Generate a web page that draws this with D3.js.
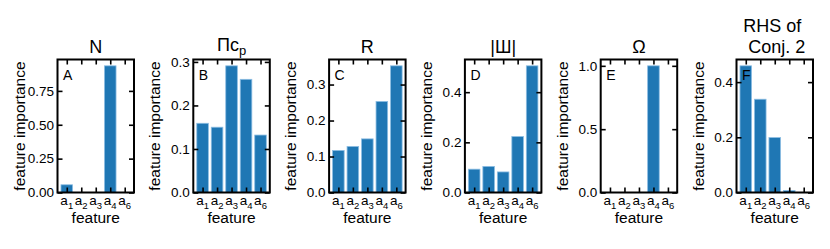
<!DOCTYPE html>
<html>
<head>
<meta charset="utf-8">
<script src="https://cdn.jsdelivr.net/npm/d3@7"></script>
<style>
  body { margin: 0; background: #fff; }
  svg { font-family: "Liberation Sans", Arial, sans-serif; }
</style>
</head>
<body>
<svg id="chart" width="830" height="249"></svg>
<script>
// features on the x axis (subscripts of a)
var features = ["1", "2", "3", "4", "6"];
var letters = ["A", "B", "C", "D", "E", "F"];
var titleMain = ["N", "\u03A0c", "R", "|\u0428|", "\u03A9", "RHS of"];
var titleSub = ["", "p", "", "", "", ""];
var titleLine2 = ["", "", "", "", "", "Conj. 2"];

// feature importances
var valuesN = [0.057, 0, 0, 0.935, 0];
var valuesPi = [0.159, 0.150, 0.291, 0.260, 0.132];
var valuesR = [0.117, 0.128, 0.149, 0.253, 0.352];
var valuesSha = [0.093, 0.104, 0.082, 0.223, 0.505];
var valuesOmega = [0, 0, 0, 1.0, 0];
var valuesRHS = [0.459, 0.338, 0.199, 0.007, 0];

// y tick values for each panel
var ticksN = [0, 0.25, 0.5, 0.75];
var ticksPi = [0, 0.1, 0.2, 0.3];
var ticksR = [0, 0.1, 0.2, 0.3];
var ticksSha = [0, 0.2, 0.4];
var ticksOmega = [0, 0.5, 1.0];
var ticksRHS = [0, 0.2, 0.4];

var panels = [
  {values: valuesN, ticks: ticksN, fmt: ".2f"},
  {values: valuesPi, ticks: ticksPi, fmt: ".1f"},
  {values: valuesR, ticks: ticksR, fmt: ".1f"},
  {values: valuesSha, ticks: ticksSha, fmt: ".1f"},
  {values: valuesOmega, ticks: ticksOmega, fmt: ".1f"},
  {values: valuesRHS, ticks: ticksRHS, fmt: ".1f"}
];

var svg = d3.select("#chart");
var firstLeft = 57.5, pitch = 135.8, pw = 76.5;
var plotTop = 59.5, plotBottom = 192.5;
var tickLen = 5;

panels.forEach(function (p, i) {
  var left = firstLeft + i * pitch;
  var g = svg.append("g").attr("transform", "translate(" + left + ",0)");

  var x = d3.scaleLinear().domain([-0.64, features.length - 1 + 0.64]).range([0, pw]);
  var y = d3.scaleLinear().domain([0, d3.max(p.values) * 1.05]).range([plotBottom, plotTop]);

  g.selectAll(".bar")
    .data(p.values)
    .enter()
    .append("rect")
    .attr("class", "bar")
    .attr("x", function (d, j) {return x(j - 0.4);})
    .attr("width", x(0.8) - x(0))
    .attr("y", function (d) {return y(d);})
    .attr("height", function (d) {return y(0) - y(d);})
    .attr("fill", "#1f77b4")
    .attr("stroke", "#8cbde3")
    .attr("stroke-width", 0.8);

  var idx = d3.range(features.length);

  var yl = g.append("g")
    .call(d3.axisLeft(y).tickValues(p.ticks).tickFormat(d3.format(p.fmt))
      .tickSizeInner(-tickLen).tickSizeOuter(0).tickPadding(3.5));
  var yr = g.append("g").attr("transform", "translate(" + pw + ",0)")
    .call(d3.axisRight(y).tickValues(p.ticks).tickFormat("")
      .tickSizeInner(-tickLen).tickSizeOuter(0));
  var xb = g.append("g").attr("transform", "translate(0," + plotBottom + ")")
    .call(d3.axisBottom(x).tickValues(idx).tickFormat("")
      .tickSizeInner(-tickLen).tickSizeOuter(0));
  var xt = g.append("g").attr("transform", "translate(0," + plotTop + ")")
    .call(d3.axisTop(x).tickValues(idx).tickFormat("")
      .tickSizeInner(-tickLen).tickSizeOuter(0));

  [yl, yr, xb, xt].forEach(function (a) {
    a.select(".domain").remove();
    a.selectAll(".tick line").attr("stroke", "#000").attr("stroke-width", 1.6);
  });
  yl.attr("font-size", null).attr("font-family", null);
  yl.selectAll(".tick text")
    .attr("font-size", 13.5)
    .attr("fill", "#000");

  // x tick labels a_k
  var xl = g.selectAll(".xlab")
    .data(features)
    .enter()
    .append("text")
    .attr("class", "xlab")
    .attr("x", function (d, j) {return x(j);})
    .attr("y", plotBottom + 12.5)
    .attr("text-anchor", "middle")
    .attr("font-size", 13.5);
  xl.append("tspan").text("a");
  xl.append("tspan").attr("dy", 3.5).attr("font-size", 9.5).text(function (d) {return d;});

  // frame
  g.append("rect")
    .attr("x", 0).attr("y", plotTop)
    .attr("width", pw).attr("height", plotBottom - plotTop)
    .attr("fill", "none")
    .attr("stroke", "#000")
    .attr("stroke-width", 2);

  // panel letter
  g.append("text")
    .attr("x", 5.5).attr("y", plotTop + 20)
    .attr("font-size", 14)
    .text(letters[i]);

  // axis labels
  g.append("text")
    .attr("x", pw / 2).attr("y", 222.5)
    .attr("text-anchor", "middle")
    .attr("font-size", 15.5)
    .text("feature");
  g.append("text")
    .attr("transform", "translate(-33," + ((plotTop + plotBottom) / 2) + ") rotate(-90)")
    .attr("text-anchor", "middle")
    .attr("font-size", 15.5)
    .text("feature importance");

  // title
  if (titleLine2[i]) {
    g.append("text")
      .attr("x", pw / 2 - 2.5).attr("y", 31.7)
      .attr("text-anchor", "middle").attr("font-size", 18)
      .text(titleMain[i]);
    g.append("text")
      .attr("x", pw / 2 + 2).attr("y", 52.7)
      .attr("text-anchor", "middle").attr("font-size", 18)
      .text(titleLine2[i]);
  } else {
    var t = g.append("text")
      .attr("x", pw / 2).attr("y", titleSub[i] ? 51 : 53.3)
      .attr("text-anchor", "middle").attr("font-size", 18);
    t.append("tspan").text(titleMain[i]);
    if (titleSub[i]) {
      t.append("tspan").attr("dy", 4).attr("font-size", 13).text(titleSub[i]);
    }
  }
});
</script>
</body>
</html>
